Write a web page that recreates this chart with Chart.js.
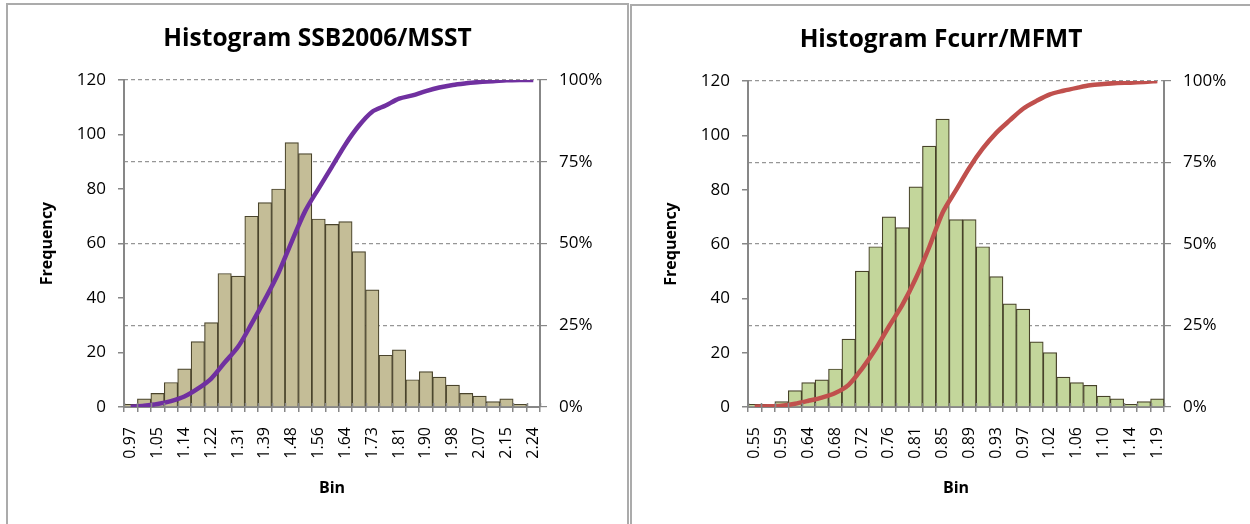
<!DOCTYPE html>
<html>
<head>
<meta charset="utf-8">
<script src="https://cdn.jsdelivr.net/npm/chart.js@4.4.1/dist/chart.umd.min.js"></script>
<style>
  body { margin: 0; background: #fff; width: 1250px; height: 524px; overflow: hidden; position: relative; }
  .panel { position: absolute; border: 2px solid #ababab; background: #fff; }
  #panelLeft { left: 6px; top: 3px; width: 619px; height: 540px; }
  #panelRight { left: 630px; top: 4px; width: 640px; height: 540px; }
  canvas { position: absolute; left: 0; top: 0; }
</style>
</head>
<body>
<div class="panel" id="panelLeft"><canvas id="ssbChart" width="619" height="519"></canvas></div>
<div class="panel" id="panelRight"><canvas id="fcurrChart" width="618" height="518"></canvas></div>
<script>
// SSB2006/MSST histogram
const ssbBins = ["0.97", "1.01", "1.05", "1.10", "1.14", "1.18", "1.22", "1.27", "1.31", "1.35",
  "1.39", "1.43", "1.48", "1.52", "1.56", "1.60", "1.64", "1.69", "1.73", "1.77",
  "1.81", "1.86", "1.90", "1.94", "1.98", "2.02", "2.07", "2.11", "2.15", "2.19", "2.24"];
const ssbFreq = [1, 3, 5, 9, 14, 24, 31, 49, 48, 70, 75, 80, 97, 93, 69, 67, 68, 57, 43, 19,
  21, 10, 13, 11, 8, 5, 4, 2, 3, 1, 0];
const ssbCumPct = [0.1, 0.4, 0.9, 1.8, 3.2, 5.6, 8.7, 13.6, 18.4, 25.4, 32.9, 40.9, 50.6, 59.9,
  66.8, 73.5, 80.3, 86.0, 90.3, 92.2, 94.3, 95.3, 96.6, 97.7, 98.5, 99.0, 99.4, 99.6, 99.9, 100, 100];

// Fcurr/MFMT histogram
const fcurrBins = ["0.55", "0.57", "0.59", "0.61", "0.64", "0.66", "0.68", "0.70", "0.72", "0.74",
  "0.76", "0.78", "0.81", "0.83", "0.85", "0.87", "0.89", "0.91", "0.93", "0.95",
  "0.97", "1.00", "1.02", "1.04", "1.06", "1.08", "1.10", "1.12", "1.14", "1.17", "1.19"];
const fcurrFreq = [1, 1, 2, 6, 9, 10, 14, 25, 50, 59, 70, 66, 81, 96, 106, 69, 69, 59, 48, 38,
  36, 24, 20, 11, 9, 8, 4, 3, 1, 2, 3];
const fcurrCumPct = [0.1, 0.2, 0.4, 1.0, 1.9, 2.9, 4.3, 6.8, 11.8, 17.7, 24.7, 31.3, 39.4, 49.0,
  59.6, 66.5, 73.4, 79.3, 84.1, 87.9, 91.5, 93.9, 95.9, 97.0, 97.9, 98.7, 99.1, 99.4, 99.5, 99.7, 100];

const FONT = "'Open Sans', 'Noto Sans', sans-serif";
const AXIS_GREY = "#878787";

// excel draws the category tick marks across the axis, so add the inner half
const crossTicks = {
  id: "crossTicks",
  afterDraw(chart) {
    const x = chart.scales.x;
    const ctx = chart.ctx;
    const bottom = chart.chartArea.bottom;
    ctx.save();
    ctx.strokeStyle = AXIS_GREY;
    ctx.lineWidth = 1.5;
    ctx.beginPath();
    for (let i = 0; i <= x.ticks.length; i++) {
      const px = Math.round(x.getPixelForValue(i - 0.5)) + 0.5;
      ctx.moveTo(px, bottom - 4);
      ctx.lineTo(px, bottom);
    }
    ctx.stroke();
    ctx.restore();
  },
};

function histogramChart(canvasId, title, bins, freq, cumPct, barFill, barEdge, lineColor, rightWidth) {
  return new Chart(document.getElementById(canvasId), {
    data: {
      labels: bins,
      datasets: [
        {
          type: "line",
          data: cumPct,
          yAxisID: "y2",
          borderColor: lineColor,
          borderWidth: 4.5,
          pointRadius: 0,
          tension: 0.3,
          fill: false,
          order: 0,
        },
        {
          type: "bar",
          data: freq,
          yAxisID: "y",
          backgroundColor: barFill,
          borderColor: barEdge,
          borderWidth: 1.2,
          categoryPercentage: 1,
          barPercentage: 1,
          order: 1,
        },
      ],
    },
    plugins: [crossTicks],
    options: {
      responsive: false,
      animation: false,
      layout: { padding: 0 },
      plugins: {
        legend: { display: false },
        tooltip: { enabled: false },
        title: {
          display: true,
          text: title,
          color: "#000",
          font: { family: FONT, size: 24.5, weight: "bold" },
          padding: { top: 19, bottom: 26.6 },
        },
      },
      scales: {
        x: {
          type: "category",
          offset: true,
          grid: { offset: true, drawOnChartArea: false, tickLength: 5, color: AXIS_GREY, lineWidth: 1.5 },
          border: { display: true, color: AXIS_GREY, width: 2 },
          ticks: {
            autoSkip: false,
            maxRotation: 90,
            minRotation: 90,
            padding: 15,
            color: "#000",
            font: { family: FONT, size: 16 },
            callback: (value, index) => (index % 2 === 0 ? bins[index] : ""),
          },
          title: {
            display: true,
            text: "Bin",
            color: "#000",
            font: { family: FONT, size: 16, weight: "bold" },
            padding: { top: 0, bottom: 26.4 },
          },
          afterFit: (scale) => { scale.height = 117; },
        },
        y: {
          position: "left",
          min: 0,
          max: 120,
          ticks: { stepSize: 20, padding: 12, color: "#000", font: { family: FONT, size: 17 } },
          grid: { drawOnChartArea: false, tickLength: 6, color: AXIS_GREY, lineWidth: 1.5 },
          border: { display: true, color: AXIS_GREY, width: 2 },
          title: {
            display: true,
            text: "Frequency",
            color: "#000",
            font: { family: FONT, size: 16, weight: "bold" },
            padding: { top: 29.4, bottom: 0 },
          },
          afterFit: (scale) => { scale.width = 116; },
        },
        y2: {
          position: "right",
          min: 0,
          max: 100,
          ticks: {
            stepSize: 25,
            padding: 12,
            color: "#000",
            font: { family: FONT, size: 17 },
            callback: (value) => value + "%",
          },
          grid: {
            drawOnChartArea: true,
            color: (ctx) => (ctx.tick && ctx.tick.value === 0 ? "rgba(0,0,0,0)" : "#969696"),
            tickColor: AXIS_GREY,
            lineWidth: 1.2,
            tickLength: 7,
          },
          border: { display: true, color: AXIS_GREY, width: 2, dash: [4, 3] },
          afterFit: (scale) => { scale.width = rightWidth; },
        },
      },
    },
  });
}

histogramChart("ssbChart", "Histogram SSB2006/MSST", ssbBins, ssbFreq, ssbCumPct,
  "#C4BD97", "#4a442c", "#7030A0", 87);
histogramChart("fcurrChart", "Histogram Fcurr/MFMT", fcurrBins, fcurrFreq, fcurrCumPct,
  "#C3D69B", "#474229", "#C0504D", 86);
</script>
</body>
</html>
